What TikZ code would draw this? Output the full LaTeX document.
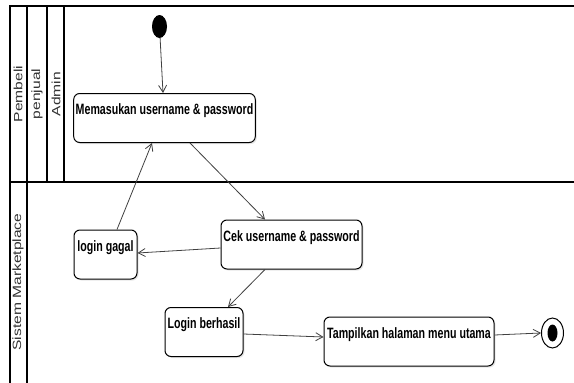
\documentclass[tikz,border=0pt]{standalone}
\usepackage{fontspec}
\setmainfont{Liberation Sans}
\newfontfamily\actfont[FakeStretch=0.71]{Liberation Sans}
\newfontfamily\lanefont[FakeStretch=1.3]{Liberation Sans}
\usetikzlibrary{arrows.meta,shadows,shapes.geometric}

\begin{document}
\begin{tikzpicture}
            [x=1pt,y=-1pt,>={Straight Barb[length=7pt,width=8pt]},
             act/.style={draw=black,fill=white,rounded corners=6pt,line width=1pt,
               font=\actfont\bfseries\fontsize{15}{17}\selectfont,
               inner xsep=2pt,inner ysep=3pt,text height=18pt,text depth=25pt,
               drop shadow={opacity=0.2,shadow xshift=1.5pt,shadow yshift=-1.5pt}},
             lane/.style={rotate=90,font=\lanefont\fontsize{12}{14}\selectfont,text=black!80,inner sep=0pt},
             flow/.style={->,draw=black!75,line width=0.8pt}]
            \useasboundingbox (0,0) rectangle (574,383);

            % swimlanes
            \draw[line width=2pt] (574,6) -- (10,6) -- (10,383);
            \draw[line width=2pt] (10,182) -- (574,182);
            \draw[line width=2pt] (27,6) -- (27,383);
            \draw[line width=2pt] (47,6) -- (47,182);
            \draw[line width=1.2pt] (64,6) -- (64,182);
            \node[lane] (pembeli) at (18,94) {Pembeli};
            \node[lane] (penjual) at (37,94) {penjual};
            \node[lane] (admin) at (56,94) {Admin};
            \node[lane] (sistem) at (18,282) {Sistem Marketplace};

            % activities
            \node[fill=black,ellipse,minimum width=15pt,minimum height=23pt,inner sep=0pt] (start) at (159.5,26.5) {};
            \node[act,minimum width=181pt] (masuk) at (164.5,118) {Memasukan username \& password};
            \node[act,minimum width=63pt] (gagal) at (105.5,254.5) {login gagal};
            \node[act,minimum width=141pt] (cek) at (291.5,244.5) {Cek username \& password};
            \node[act,minimum width=78pt] (berhasil) at (204,332) {Login berhasil};
            \node[act,minimum width=170pt] (tampil) at (409,341.5) {Tampilkan halaman menu utama};
            \node[draw=black,fill=white,ellipse,line width=1pt,minimum width=22pt,minimum height=30pt,inner sep=0pt] (end) at (552.5,333) {};
            \node[fill=black,ellipse,minimum width=10pt,minimum height=17pt,inner sep=0pt] (endin) at (end) {};

            % transitions
            \draw[flow] (start) -- ([xshift=-1.5pt]masuk.north);
            \draw[flow] ([xshift=25.5pt]masuk.south) -- ([xshift=-26.5pt]cek.north);
            \draw[flow] ([xshift=11.5pt]gagal.north) -- ([xshift=-12.5pt]masuk.south);
            \draw[flow] ([yshift=-3.5pt]cek.west) -- ([yshift=1.5pt]gagal.east);
            \draw[flow] ([xshift=-26.5pt]cek.south) -- ([xshift=24pt]berhasil.north);
            \draw[flow] ([yshift=-2pt]berhasil.east) -- ([yshift=4.5pt]tampil.west);
            \draw[flow] ([yshift=6.5pt]tampil.east) -- (end.west);
        \end{tikzpicture}
\end{document}
